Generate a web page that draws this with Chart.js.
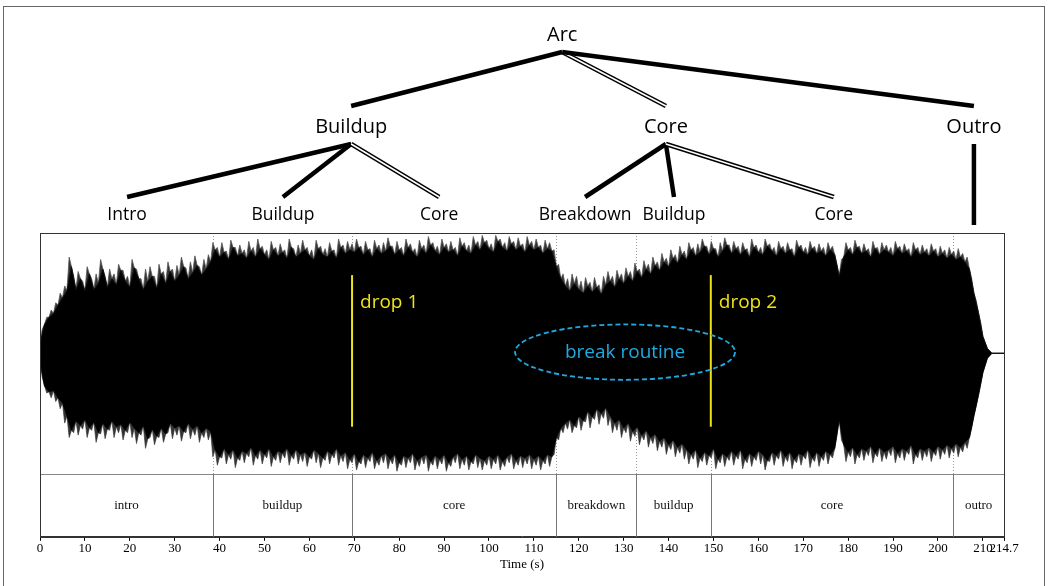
<!DOCTYPE html>
<html>
<head>
<meta charset="utf-8">
<script src="https://cdn.jsdelivr.net/npm/chart.js@4/dist/chart.umd.min.js"></script>
<style>
  html, body { margin: 0; padding: 0; background: #fff; }
  #wrap { position: relative; width: 1048px; height: 586px; overflow: hidden; }
  #rand { position: absolute; left: 3px; top: 6px; width: 1042px; height: 600px; border: 1px solid #666; box-sizing: border-box; }
  canvas { position: absolute; left: 0; top: 0; }
</style>
</head>
<body>
<div id="wrap">
  <div id="rand"></div>
  <canvas id="golf" width="1048" height="586"></canvas>
</div>
<script>
/* golfvorm met segmentband, drops, break routine en boomstructuur erboven */

// amplitude-omhullende (dichte kern) per seconde (0..214 s, laatste punt 214.7 s)
const golfBoven = [
  0.08, 0.24, 0.30, 0.33, 0.40, 0.46, 0.52, 0.72, 0.53, 0.62,
  0.52, 0.66, 0.53, 0.58, 0.70, 0.55, 0.62, 0.57, 0.69, 0.60,
  0.55, 0.71, 0.62, 0.53, 0.60, 0.64, 0.54, 0.66, 0.58, 0.68,
  0.60, 0.65, 0.72, 0.62, 0.67, 0.73, 0.65, 0.70, 0.76,
  0.86, 0.80, 0.84, 0.78, 0.88, 0.81, 0.83, 0.79, 0.85, 0.80, 0.87,
  0.82, 0.78, 0.86, 0.81, 0.84, 0.79, 0.88, 0.80, 0.83, 0.86,
  0.81, 0.78, 0.87, 0.82, 0.80, 0.85, 0.79, 0.88, 0.83, 0.86,
  0.84, 0.88, 0.82, 0.86, 0.80, 0.87, 0.83, 0.85, 0.89, 0.82,
  0.86, 0.81, 0.88, 0.84, 0.80, 0.87, 0.83, 0.90, 0.85, 0.82,
  0.88, 0.84, 0.86, 0.81, 0.89, 0.85, 0.83, 0.90, 0.86, 0.92,
  0.87, 0.84, 0.93, 0.88, 0.85, 0.91, 0.86, 0.89, 0.84, 0.90,
  0.86, 0.88, 0.83, 0.87, 0.85,
  0.72, 0.62, 0.56, 0.52, 0.58,
  0.53, 0.50, 0.56, 0.51, 0.55, 0.49, 0.57, 0.60,
  0.55, 0.62, 0.58, 0.64, 0.60, 0.68, 0.63, 0.70, 0.66, 0.73, 0.69, 0.76, 0.72, 0.79, 0.75, 0.82, 0.78,
  0.86, 0.81, 0.84, 0.89, 0.82, 0.87, 0.80, 0.85, 0.90, 0.83,
  0.87, 0.82, 0.86, 0.80, 0.88, 0.84, 0.82, 0.89, 0.85, 0.81,
  0.87, 0.83, 0.86, 0.80, 0.88, 0.84, 0.82, 0.87, 0.83, 0.85, 0.81, 0.86, 0.82,
  0.64,
  0.80, 0.86, 0.82, 0.88, 0.83, 0.85, 0.80, 0.87, 0.82, 0.86,
  0.84, 0.81, 0.87, 0.83, 0.85, 0.80, 0.86, 0.82, 0.84, 0.81,
  0.85, 0.80, 0.83, 0.79, 0.82, 0.78, 0.80, 0.76,
  0.70, 0.50, 0.34, 0.14, 0.04, 0, 0, 0,
  0
];
const golfOnder = [
  -0.06, -0.27, -0.32, -0.31, -0.37, -0.41, -0.52, -0.64, -0.56, -0.60,
  -0.55, -0.62, -0.57, -0.66, -0.58, -0.63, -0.56, -0.61, -0.59, -0.64,
  -0.57, -0.62, -0.66, -0.60, -0.71, -0.63, -0.69, -0.62, -0.67, -0.58,
  -0.62, -0.60, -0.65, -0.58, -0.63, -0.60, -0.66, -0.62, -0.65,
  -0.80, -0.86, -0.79, -0.84, -0.80, -0.87, -0.81, -0.83, -0.78, -0.85, -0.80,
  -0.84, -0.79, -0.86, -0.81, -0.83, -0.79, -0.85, -0.80, -0.84, -0.82,
  -0.86, -0.80, -0.83, -0.87, -0.81, -0.84, -0.79, -0.85, -0.82, -0.88,
  -0.83, -0.90, -0.84, -0.87, -0.82, -0.89, -0.85, -0.83, -0.88, -0.84,
  -0.91, -0.85, -0.87, -0.83, -0.89, -0.86, -0.84, -0.90, -0.85, -0.88,
  -0.84, -0.91, -0.86, -0.83, -0.88, -0.85, -0.90, -0.84, -0.87, -0.89,
  -0.85, -0.88, -0.84, -0.90, -0.86, -0.83, -0.89, -0.85, -0.87, -0.84,
  -0.88, -0.85, -0.89, -0.84, -0.86,
  -0.70, -0.62, -0.58, -0.55, -0.60,
  -0.52, -0.56, -0.48, -0.53, -0.46, -0.50, -0.45, -0.52,
  -0.58, -0.55, -0.62, -0.58, -0.65, -0.61, -0.68, -0.64, -0.70, -0.67, -0.73, -0.70, -0.76, -0.72, -0.78, -0.75, -0.80,
  -0.84, -0.80, -0.87, -0.82, -0.85, -0.79, -0.88, -0.83, -0.86, -0.81,
  -0.85, -0.80, -0.88, -0.83, -0.86, -0.81, -0.84, -0.89, -0.82, -0.85,
  -0.80, -0.86, -0.82, -0.88, -0.83, -0.85, -0.80, -0.87, -0.82, -0.86, -0.81, -0.84, -0.79,
  -0.55,
  -0.76, -0.82, -0.78, -0.84, -0.79, -0.81, -0.77, -0.83, -0.78, -0.82,
  -0.80, -0.77, -0.83, -0.79, -0.81, -0.76, -0.84, -0.79, -0.81, -0.78,
  -0.82, -0.77, -0.80, -0.76, -0.79, -0.75, -0.78, -0.74,
  -0.70, -0.52, -0.35, -0.16, -0.04, 0, 0, 0,
  0
];
// losse pieken op de halve seconden (0.5..214.5 s)
const piekBoven = [
  0.20, 0.30, 0.36, 0.42, 0.50, 0.56, 0.80, 0.64, 0.68, 0.60,
  0.72, 0.62, 0.66, 0.78, 0.64, 0.70, 0.66, 0.74, 0.69, 0.64,
  0.78, 0.70, 0.62, 0.70, 0.72, 0.64, 0.74, 0.68, 0.76, 0.70,
  0.73, 0.80, 0.71, 0.76, 0.81, 0.72, 0.78, 0.82, 0.92,
  0.88, 0.92, 0.85, 0.94, 0.88, 0.90, 0.86, 0.93, 0.88, 0.95, 0.89,
  0.86, 0.93, 0.88, 0.91, 0.86, 0.95, 0.87, 0.90, 0.94, 0.88,
  0.86, 0.94, 0.89, 0.87, 0.92, 0.86, 0.95, 0.90, 0.93, 0.91,
  0.95, 0.89, 0.93, 0.87, 0.94, 0.90, 0.92, 0.96, 0.89, 0.93,
  0.88, 0.95, 0.91, 0.87, 0.94, 0.90, 0.97, 0.92, 0.89, 0.95,
  0.91, 0.93, 0.88, 0.96, 0.92, 0.90, 0.97, 0.93, 0.98, 0.94,
  0.91, 0.98, 0.95, 0.92, 0.97, 0.93, 0.96, 0.91, 0.97, 0.93,
  0.95, 0.90, 0.94, 0.92, 0.86,
  0.74, 0.66, 0.62, 0.66, 0.64,
  0.60, 0.63, 0.59, 0.63, 0.57, 0.64, 0.68, 0.64,
  0.69, 0.66, 0.71, 0.68, 0.75, 0.70, 0.77, 0.74, 0.80, 0.76, 0.83, 0.79, 0.86, 0.82, 0.89, 0.85, 0.92,
  0.88, 0.91, 0.95, 0.89, 0.93, 0.87, 0.92, 0.96, 0.90, 0.93,
  0.89, 0.92, 0.87, 0.95, 0.90, 0.88, 0.95, 0.91, 0.88, 0.93,
  0.89, 0.92, 0.87, 0.94, 0.90, 0.88, 0.93, 0.89, 0.91, 0.88, 0.92, 0.89, 0.74,
  0.78,
  0.92, 0.88, 0.94, 0.89, 0.91, 0.87, 0.93, 0.88, 0.92, 0.90,
  0.88, 0.93, 0.89, 0.91, 0.87, 0.92, 0.88, 0.90, 0.87, 0.91,
  0.87, 0.89, 0.86, 0.88, 0.85, 0.87, 0.83, 0.80,
  0.62, 0.44, 0.26, 0.09, 0.02, 0, 0, 0
];
const piekOnder = [
  -0.20, -0.33, -0.37, -0.40, -0.46, -0.58, -0.70, -0.66, -0.68, -0.63,
  -0.70, -0.64, -0.74, -0.67, -0.71, -0.64, -0.70, -0.66, -0.72, -0.66,
  -0.70, -0.75, -0.68, -0.79, -0.70, -0.76, -0.70, -0.74, -0.66, -0.71,
  -0.68, -0.73, -0.66, -0.71, -0.68, -0.74, -0.70, -0.72, -0.86,
  -0.93, -0.87, -0.92, -0.88, -0.95, -0.89, -0.91, -0.86, -0.93, -0.88, -0.92,
  -0.87, -0.94, -0.89, -0.91, -0.87, -0.93, -0.88, -0.92, -0.90, -0.94,
  -0.88, -0.91, -0.95, -0.89, -0.92, -0.87, -0.93, -0.90, -0.96, -0.91,
  -0.97, -0.92, -0.95, -0.90, -0.96, -0.93, -0.91, -0.96, -0.92, -0.98,
  -0.93, -0.95, -0.91, -0.97, -0.94, -0.92, -0.98, -0.93, -0.96, -0.92,
  -0.98, -0.94, -0.91, -0.96, -0.93, -0.97, -0.92, -0.95, -0.97, -0.93,
  -0.96, -0.92, -0.97, -0.94, -0.91, -0.96, -0.93, -0.95, -0.92, -0.96,
  -0.93, -0.97, -0.92, -0.94, -0.84,
  -0.72, -0.66, -0.63, -0.66, -0.62,
  -0.64, -0.57, -0.62, -0.55, -0.59, -0.54, -0.60, -0.66,
  -0.64, -0.70, -0.66, -0.73, -0.69, -0.76, -0.72, -0.78, -0.75, -0.81, -0.78, -0.84, -0.80, -0.86, -0.83, -0.88, -0.92,
  -0.88, -0.95, -0.90, -0.93, -0.87, -0.96, -0.91, -0.94, -0.89, -0.93,
  -0.88, -0.96, -0.91, -0.94, -0.89, -0.92, -0.97, -0.90, -0.93, -0.88,
  -0.94, -0.90, -0.96, -0.91, -0.93, -0.88, -0.95, -0.90, -0.94, -0.89, -0.92, -0.87, -0.68,
  -0.72,
  -0.90, -0.86, -0.92, -0.87, -0.89, -0.85, -0.91, -0.86, -0.90, -0.88,
  -0.85, -0.91, -0.87, -0.89, -0.84, -0.92, -0.87, -0.89, -0.86, -0.90,
  -0.85, -0.88, -0.84, -0.87, -0.83, -0.86, -0.82, -0.79,
  -0.62, -0.44, -0.26, -0.10, -0.02, 0, 0, 0
];
const EIND = 214.7;
const golfTijden = golfBoven.map((_, i) => Math.min(i, EIND));

// segmenten onderin
const segNamen = ['intro', 'buildup', 'core', 'breakdown', 'buildup', 'core', 'outro'];
const segGrenzen = [0, 38.5, 69.5, 115, 132.8, 149.4, 203.4, 214.7];

// x-as
const xTicks = [0, 10, 20, 30, 40, 50, 60, 70, 80, 90, 100, 110, 120, 130, 140, 150, 160, 170, 180, 190, 200, 210, 214.7];

// drops
const dropTijden = [69.5, 149.4];
const dropLabels = ['drop 1', 'drop 2'];

// break routine ellips (midden in s / amplitude, stralen in s / amplitude)
const breakMidden = [130.3, 0.01];
const breakStraal = [24.5, 0.23];
const breakLabel = 'break routine';

// boom
const boomNamen = ['Arc', 'Buildup', 'Core', 'Outro', 'Intro', 'Buildup', 'Core', 'Breakdown', 'Buildup', 'Core', ''];
const boomTijden = [116.3, 69.3, 139.4, 208.0, 19.4, 54.1, 88.9, 121.4, 141.2, 176.8, 208.0];
const boomNiveau = [0, 1, 1, 1, 2, 2, 2, 2, 2, 2, 2];
const boomOuder = [-1, 0, 0, 0, 1, 1, 1, 2, 2, 2, 3];
const boomLijn = ['', 'vol', 'dubbel', 'vol', 'vol', 'vol', 'dubbel', 'vol', 'vol', 'dubbel', 'vol'];

const GEEL = '#eee21a';
const CYAAN = '#1eaae1';
const SANS = '"Open Sans", "Noto Sans", sans-serif';
const SERIF = '"Liberation Serif", "DejaVu Serif", serif';

// vaste rijen van de boom (px): tekstmidden, lijn-boven, lijn-onder
const RIJ = [
  { tekst: 35, top: 0, onder: 52, font: 20 },
  { tekst: 127, top: 106, onder: 144, font: 20 },
  { tekst: 215, top: 197, onder: 0, font: 17.5 }
];

// zaagtand: kern op hele seconden, piek op de halve
function zaag(kern, piek) {
  const pts = [];
  kern.forEach((v, i) => {
    pts.push({ x: golfTijden[i], y: v });
    if (i < piek.length) pts.push({ x: golfTijden[i] + 0.5, y: piek[i] });
  });
  return pts;
}

const extras = {
  id: 'extras',
  beforeDatasetsDraw(chart) {
    const { ctx, chartArea: ca, scales: { x, y } } = chart;
    ctx.save();
    // stippellijnen op segmentgrenzen
    ctx.strokeStyle = '#999';
    ctx.lineWidth = 1;
    ctx.setLineDash([1, 2]);
    for (const g of segGrenzen.slice(1, -1)) {
      const px = Math.round(x.getPixelForValue(g)) + 0.5;
      ctx.beginPath();
      ctx.moveTo(px, ca.top);
      ctx.lineTo(px, y.getPixelForValue(-1));
      ctx.stroke();
    }
    ctx.restore();
  },
  afterDatasetsDraw(chart) {
    const { ctx, chartArea: ca, scales: { x, y } } = chart;
    ctx.save();

    // segmentband
    const bandTop = y.getPixelForValue(-1);
    ctx.strokeStyle = '#888';
    ctx.lineWidth = 1;
    ctx.beginPath();
    ctx.moveTo(ca.left, Math.round(bandTop) + 0.5);
    ctx.lineTo(ca.right, Math.round(bandTop) + 0.5);
    ctx.stroke();
    ctx.font = `13px ${SERIF}`;
    ctx.fillStyle = '#111';
    ctx.textAlign = 'center';
    ctx.textBaseline = 'middle';
    segNamen.forEach((n, i) => {
      const a = x.getPixelForValue(segGrenzen[i]);
      const b = x.getPixelForValue(segGrenzen[i + 1]);
      if (i > 0) {
        ctx.strokeStyle = '#777';
        ctx.beginPath();
        ctx.moveTo(Math.round(a) + 0.5, bandTop);
        ctx.lineTo(Math.round(a) + 0.5, ca.bottom);
        ctx.stroke();
      }
      ctx.fillText(n, (a + b) / 2, (bandTop + ca.bottom) / 2);
    });

    // kader
    ctx.strokeStyle = '#333';
    ctx.strokeRect(Math.round(ca.left) + 0.5, Math.round(ca.top) + 0.5, Math.round(ca.right - ca.left), Math.round(ca.bottom - ca.top));

    // drops
    ctx.strokeStyle = GEEL;
    ctx.fillStyle = GEEL;
    ctx.lineWidth = 2;
    ctx.font = `19px ${SANS}`;
    ctx.textAlign = 'left';
    dropTijden.forEach((t, i) => {
      const px = x.getPixelForValue(t);
      ctx.beginPath();
      ctx.moveTo(px, y.getPixelForValue(0.65));
      ctx.lineTo(px, y.getPixelForValue(-0.61));
      ctx.stroke();
      ctx.fillText(dropLabels[i], px + 8, y.getPixelForValue(0.42));
    });

    // break routine
    const cx = x.getPixelForValue(breakMidden[0]);
    const cy = y.getPixelForValue(breakMidden[1]);
    const rx = x.getPixelForValue(breakMidden[0] + breakStraal[0]) - cx;
    const ry = cy - y.getPixelForValue(breakMidden[1] + breakStraal[1]);
    ctx.strokeStyle = CYAAN;
    ctx.lineWidth = 1.8;
    ctx.setLineDash([5, 3]);
    ctx.beginPath();
    ctx.ellipse(cx, cy, rx, ry, 0, 0, Math.PI * 2);
    ctx.stroke();
    ctx.setLineDash([]);
    ctx.fillStyle = CYAAN;
    ctx.textAlign = 'center';
    ctx.fillText(breakLabel, cx, cy);
    ctx.restore();
  },
  afterDraw(chart) {
    const { ctx, scales: { x } } = chart;
    ctx.save();
    ctx.lineCap = 'butt';
    // lijnen
    boomNamen.forEach((n, i) => {
      const p = boomOuder[i];
      if (p < 0) return;
      const x1 = x.getPixelForValue(boomTijden[p]);
      const y1 = RIJ[boomNiveau[p]].onder;
      const x2 = x.getPixelForValue(boomTijden[i]);
      const y2 = n === '' ? 225 : RIJ[boomNiveau[i]].top;
      ctx.strokeStyle = '#000';
      ctx.lineWidth = 4.5;
      ctx.beginPath();
      ctx.moveTo(x1, y1);
      ctx.lineTo(x2, y2);
      ctx.stroke();
      if (boomLijn[i] === 'dubbel') {
        ctx.strokeStyle = '#fff';
        ctx.lineWidth = 1.6;
        ctx.stroke();
      }
    });
    // labels
    ctx.fillStyle = '#000';
    ctx.textAlign = 'center';
    ctx.textBaseline = 'middle';
    boomNamen.forEach((n, i) => {
      if (!n) return;
      const r = RIJ[boomNiveau[i]];
      ctx.font = `${r.font}px ${SANS}`;
      ctx.fillText(n, x.getPixelForValue(boomTijden[i]), r.tekst);
    });
    ctx.restore();
  }
};

const lijnBasis = { pointRadius: 0, tension: 0 };

new Chart(document.getElementById('golf'), {
  type: 'line',
  data: {
    datasets: [
      { ...lijnBasis, data: golfTijden.map((t, i) => ({ x: t, y: golfBoven[i] })), borderColor: '#111', backgroundColor: '#000', borderWidth: 1, fill: '+1' },
      { ...lijnBasis, data: golfTijden.map((t, i) => ({ x: t, y: golfOnder[i] })), borderColor: '#111', borderWidth: 1, fill: false },
      { ...lijnBasis, data: zaag(golfBoven, piekBoven), borderColor: '#555', backgroundColor: '#333', borderWidth: 0.8, fill: '+1' },
      { ...lijnBasis, data: zaag(golfOnder, piekOnder), borderColor: '#555', borderWidth: 0.8, fill: false }
    ]
  },
  options: {
    responsive: false,
    animation: false,
    events: [],
    layout: { padding: { left: 40, right: 44, top: 233, bottom: 14 } },
    plugins: { legend: { display: false }, tooltip: { enabled: false } },
    scales: {
      x: {
        type: 'linear', min: 0, max: EIND,
        afterBuildTicks: ax => { ax.ticks = xTicks.map(v => ({ value: v })); },
        ticks: {
          autoSkip: false, maxRotation: 0, padding: 0, color: '#000',
          font: { family: SERIF, size: 13 },
          callback: v => String(v)
        },
        grid: { display: true, drawOnChartArea: false, drawTicks: true, tickLength: 4, color: '#000' },
        border: { display: true, color: '#333' },
        title: { display: true, text: 'Time (s)', color: '#000', padding: { top: 0, bottom: 0 }, font: { family: SERIF, size: 13 } }
      },
      y: { display: false, min: -1.525, max: 1 }
    }
  },
  plugins: [extras]
});
</script>
</body>
</html>
